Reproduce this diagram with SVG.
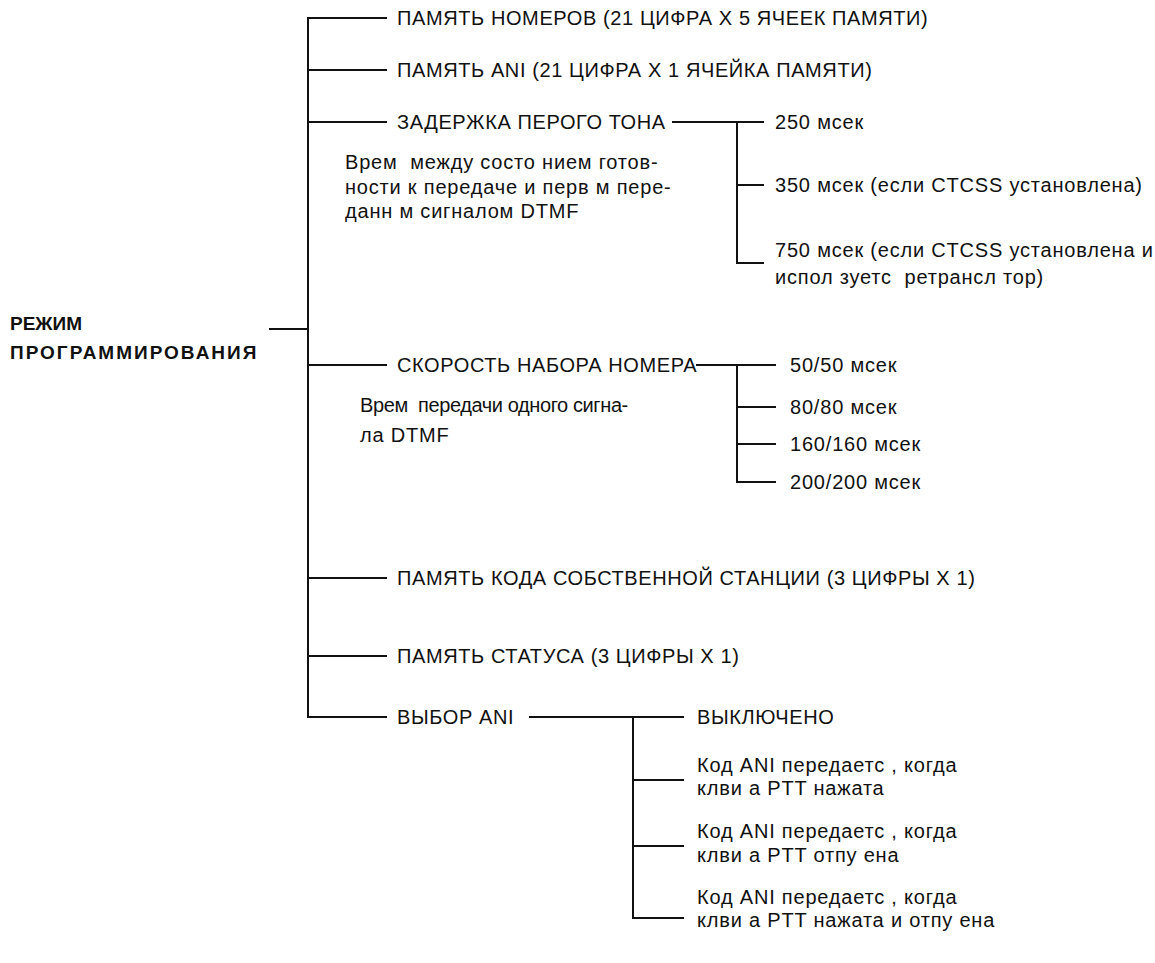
<svg xmlns="http://www.w3.org/2000/svg" width="1155" height="963" viewBox="0 0 1155 963">
<style>
.t{font-family:"Liberation Sans",Arial,sans-serif;font-size:20px;fill:#111;letter-spacing:0.8px;dominant-baseline:central;white-space:pre}
.u{letter-spacing:0.6px}
.b{font-family:"Liberation Sans",Arial,sans-serif;font-size:19px;font-weight:bold;fill:#111;letter-spacing:2px;dominant-baseline:central}
.c line{stroke:#111;stroke-width:2;stroke-linecap:square}
</style>
<rect width="1155" height="963" fill="#fff"/>
<g class="c" id="connectors">
<line x1="270" y1="329" x2="308" y2="329"/>
<line x1="308" y1="18" x2="308" y2="717"/>
<line x1="308" y1="18" x2="386" y2="18"/>
<line x1="308" y1="70" x2="386" y2="70"/>
<line x1="308" y1="122" x2="386" y2="122"/>
<line x1="308" y1="365" x2="386" y2="365"/>
<line x1="308" y1="578" x2="386" y2="578"/>
<line x1="308" y1="656" x2="386" y2="656"/>
<line x1="308" y1="717" x2="386" y2="717"/>
<line x1="673" y1="122" x2="763" y2="122"/>
<line x1="737" y1="122" x2="737" y2="263"/>
<line x1="737" y1="185" x2="763" y2="185"/>
<line x1="737" y1="263" x2="763" y2="263"/>
<line x1="697" y1="365" x2="775" y2="365"/>
<line x1="737" y1="365" x2="737" y2="482"/>
<line x1="737" y1="407" x2="775" y2="407"/>
<line x1="737" y1="444" x2="775" y2="444"/>
<line x1="737" y1="482" x2="775" y2="482"/>
<line x1="530" y1="717" x2="683" y2="717"/>
<line x1="633" y1="717" x2="633" y2="918"/>
<line x1="633" y1="780" x2="683" y2="780"/>
<line x1="633" y1="846" x2="683" y2="846"/>
<line x1="633" y1="918" x2="683" y2="918"/>
</g>
<g id="root"><text class="b" x="10" y="323" style="letter-spacing:0px">РЕЖИМ</text><text class="b" x="10" y="352">ПРОГРАММИРОВАНИЯ</text></g>
<g id="n1"><text class="t u" x="397" y="18">ПАМЯТЬ НОМЕРОВ (21 ЦИФРА X 5 ЯЧЕЕК ПАМЯТИ)</text></g>
<g id="n2"><text class="t u" x="397" y="70">ПАМЯТЬ ANI (21 ЦИФРА X 1 ЯЧЕЙКА ПАМЯТИ)</text></g>
<g id="n3"><text class="t u" x="397" y="122">ЗАДЕРЖКА ПЕРОГО ТОНА</text>
<text class="t" x="345" y="162">Врем  между состо нием готов-</text>
<text class="t" x="345" y="187">ности к передаче и перв м пере-</text>
<text class="t" x="345" y="211">данн м сигналом DTMF</text></g>
<g id="n3a"><text class="t" x="775" y="122">250 мсек</text></g>
<g id="n3b"><text class="t" x="775" y="185">350 мсек (если CTCSS установлена)</text></g>
<g id="n3c"><text class="t" x="775" y="250">750 мсек (если CTCSS установлена и</text><text class="t" x="775" y="277">испол зуетс  ретрансл тор)</text></g>
<g id="n4"><text class="t u" x="397" y="365">СКОРОСТЬ НАБОРА НОМЕРА</text>
<text class="t" x="360" y="405" style="letter-spacing:-0.4px">Врем  передачи одного сигна-</text>
<text class="t" x="360" y="435">ла DTMF</text></g>
<g id="n4a"><text class="t" x="790" y="365">50/50 мсек</text></g>
<g id="n4b"><text class="t" x="790" y="407">80/80 мсек</text></g>
<g id="n4c"><text class="t" x="790" y="444">160/160 мсек</text></g>
<g id="n4d"><text class="t" x="790" y="482">200/200 мсек</text></g>
<g id="n5"><text class="t u" x="397" y="578">ПАМЯТЬ КОДА СОБСТВЕННОЙ СТАНЦИИ (3 ЦИФРЫ X 1)</text></g>
<g id="n6"><text class="t u" x="397" y="656">ПАМЯТЬ СТАТУСА (3 ЦИФРЫ X 1)</text></g>
<g id="n7"><text class="t u" x="397" y="717">ВЫБОР ANI</text></g>
<g id="n7a"><text class="t u" x="697" y="717">ВЫКЛЮЧЕНО</text></g>
<g id="n7b"><text class="t" x="697" y="765">Код ANI передаетс , когда</text><text class="t" x="697" y="788">клви а PTT нажата</text></g>
<g id="n7c"><text class="t" x="697" y="831">Код ANI передаетс , когда</text><text class="t" x="697" y="855">клви а PTT отпу ена</text></g>
<g id="n7d"><text class="t" x="697" y="897">Код ANI передаетс , когда</text><text class="t" x="697" y="920">клви а PTT нажата и отпу ена</text></g>
</svg>
